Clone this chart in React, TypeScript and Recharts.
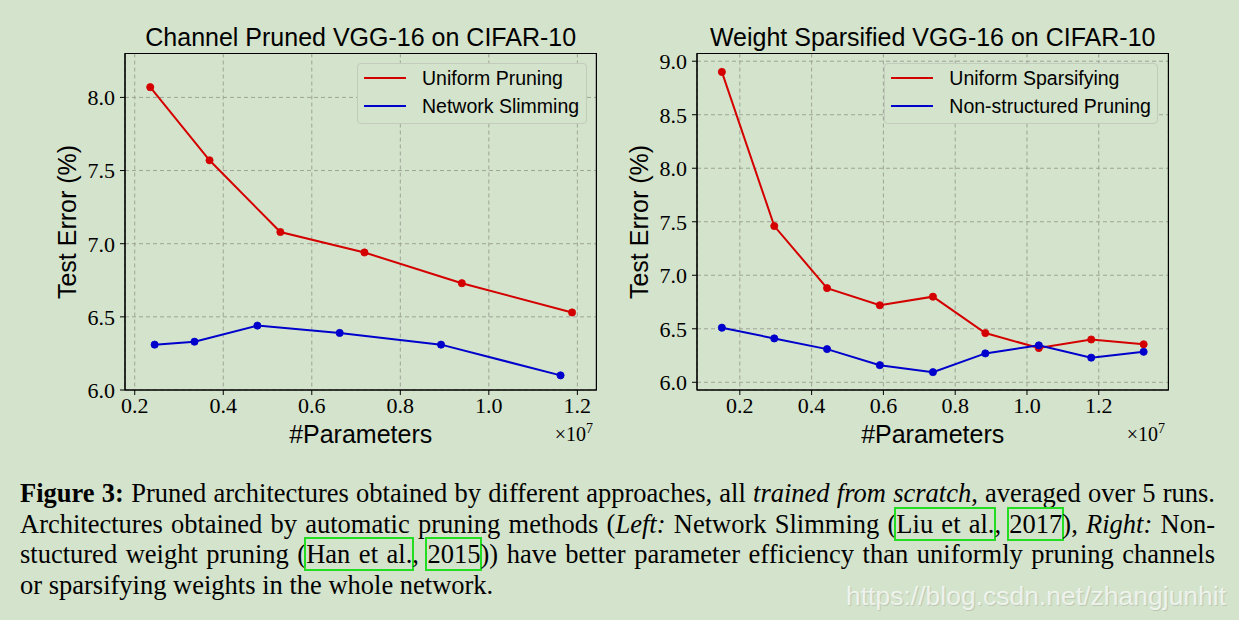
import { LineChart, Line, XAxis, YAxis, CartesianGrid, ReferenceArea, Legend } from 'recharts';

const BG = '#d4e3cb';
const RED = '#d40000';
const BLUE = '#0000cc';
const GRID = '#9ea596';

// left panel: channel pruned VGG-16 (x in units of 1e7 params)
const channelParams = [0.235, 0.369, 0.529, 0.719, 0.939, 1.188];
const channelUniform = [8.07, 7.57, 7.08, 6.94, 6.73, 6.53];
const slimmingParams = [0.245, 0.335, 0.477, 0.663, 0.892, 1.162];
const slimmingError = [6.31, 6.33, 6.44, 6.39, 6.31, 6.1];

// right panel: weight sparsified VGG-16
const weightParams = [0.15, 0.296, 0.443, 0.59, 0.738, 0.884, 1.033, 1.179, 1.325];
const uniformSparse = [8.9, 7.46, 6.88, 6.72, 6.8, 6.46, 6.32, 6.4, 6.355];
const nonStructured = [6.51, 6.41, 6.31, 6.16, 6.095, 6.27, 6.345, 6.23, 6.285];

const xTicks = [0.2, 0.4, 0.6, 0.8, 1.0, 1.2];
const leftYTicks = [6.0, 6.5, 7.0, 7.5, 8.0];
const rightYTicks = [6.0, 6.5, 7.0, 7.5, 8.0, 8.5, 9.0];

const toPoints = (xs: number[], ys: number[]) => xs.map((x, i) => ({ x, y: ys[i] }));

interface Series {
  name: string;
  color: string;
  data: { x: number; y: number }[];
}

interface PanelProps {
  left: number;
  title: string;
  xDomain: [number, number];
  yDomain: [number, number];
  yTicks: number[];
  series: Series[];
  legendLeft: number;
  legendWidth: number;
}

const W = 610;
const H = 460;
const PLOT_L = 125;
const PLOT_R = 596.4;
const PLOT_T = 53.5;
const PLOT_B = 390;
const MID = (PLOT_L + PLOT_R) / 2;

const sans = '"Liberation Sans", Arial, sans-serif';
const serif = '"Liberation Serif", "Times New Roman", serif';

const LegendBox = ({ series, width }: { series: Series[]; width: number }) => (
  <div
    style={{
      width,
      height: 61,
      boxSizing: 'border-box',
      border: '1px solid #c3cbbd',
      borderRadius: 4,
      background: BG,
      fontFamily: sans,
      fontSize: 19.5,
      color: '#000',
    }}
  >
    {series.map((s, i) => (
      <div key={s.name} style={{ position: 'absolute', left: 0, top: 15 + i * 28.4 - 12, height: 24, display: 'flex', alignItems: 'center' }}>
        <div style={{ marginLeft: 7, width: 42, height: 2, background: s.color }} />
        <div style={{ marginLeft: 16, whiteSpace: 'nowrap', lineHeight: '24px' }}>{s.name}</div>
      </div>
    ))}
  </div>
);

const Panel = ({ left, title, xDomain, yDomain, yTicks, series, legendLeft, legendWidth }: PanelProps) => (
  <div style={{ position: 'absolute', left, top: 0, width: W, height: H }}>
    <LineChart width={W} height={H} margin={{ top: PLOT_T, right: W - PLOT_R, left: 0, bottom: 0 }}>
      <CartesianGrid stroke={GRID} strokeDasharray="4 3" strokeWidth={1} />
      <XAxis
        type="number"
        dataKey="x"
        domain={xDomain}
        ticks={xTicks}
        interval={0}
        height={H - PLOT_B}
        tickFormatter={(v: number) => v.toFixed(1)}
        tick={{ fontFamily: serif, fontSize: 22, fill: '#000' }}
        tickSize={5}
        tickMargin={2}
        axisLine={{ stroke: '#000' }}
        tickLine={{ stroke: '#000' }}
        allowDataOverflow
      />
      <YAxis
        type="number"
        domain={yDomain}
        ticks={yTicks}
        interval={0}
        width={PLOT_L}
        tickFormatter={(v: number) => v.toFixed(1)}
        tick={{ fontFamily: serif, fontSize: 22, fill: '#000' }}
        tickSize={5}
        tickMargin={5}
        axisLine={{ stroke: '#000' }}
        tickLine={{ stroke: '#000' }}
        allowDataOverflow
      />
      {series.map((s) => (
        <Line
          key={s.name}
          name={s.name}
          data={s.data}
          dataKey="y"
          type="linear"
          stroke={s.color}
          strokeWidth={2}
          dot={{ r: 3.6, fill: s.color, stroke: s.color, strokeWidth: 0.8 }}
          activeDot={false}
          isAnimationActive={false}
        />
      ))}
      <ReferenceArea
        x1={xDomain[0]}
        x2={xDomain[1]}
        y1={yDomain[0]}
        y2={yDomain[1]}
        fill="none"
        fillOpacity={0}
        stroke="#000"
        strokeWidth={1.2}
      />
      <Legend
        layout="vertical"
        align="center"
        verticalAlign="middle"
        wrapperStyle={{ left: legendLeft, top: 63, width: legendWidth, height: 61 }}
        content={() => <LegendBox series={series} width={legendWidth} />}
      />
    </LineChart>
    <svg width={W} height={H} style={{ position: 'absolute', left: 0, top: 0, pointerEvents: 'none' }}>
      <text x={MID} y={46} textAnchor="middle" fontFamily={sans} fontSize={25} fill="#000">
        {title}
      </text>
      <text x={MID} y={443} textAnchor="middle" fontFamily={sans} fontSize={25} fill="#000">
        #Parameters
      </text>
      <text x={76} y={222} textAnchor="middle" fontFamily={sans} fontSize={25} fill="#000" transform="rotate(-90 76 222)">
        Test Error (%)
      </text>
      <text x={593} y={441} textAnchor="end" fontFamily={serif} fontSize={20} fill="#000">
        ×10<tspan fontSize={14} dy={-8}>7</tspan>
      </text>
    </svg>
  </div>
);

const linkBox = { boxShadow: '0 0 0 2px #22dd22' };
const lineStyle = {
  textAlign: 'justify' as const,
  textAlignLast: 'justify' as const,
  wordSpacing: -3,
  height: 30.7,
};

export default function App() {
  return (
    <div style={{ position: 'absolute', left: 0, top: 0, width: 1239, height: 620, background: BG, overflow: 'hidden' }}>
      <Panel
        left={0}
        title="Channel Pruned VGG-16 on CIFAR-10"
        xDomain={[0.178, 1.243]}
        yDomain={[6.0, 8.3]}
        yTicks={leftYTicks}
        series={[
          { name: 'Uniform Pruning', color: RED, data: toPoints(channelParams, channelUniform) },
          { name: 'Network Slimming', color: BLUE, data: toPoints(slimmingParams, slimmingError) },
        ]}
        legendLeft={357}
        legendWidth={230}
      />
      <Panel
        left={571.8}
        title="Weight Sparsified VGG-16 on CIFAR-10"
        xDomain={[0.0807, 1.394]}
        yDomain={[5.928, 9.072]}
        yTicks={rightYTicks}
        series={[
          { name: 'Uniform Sparsifying', color: RED, data: toPoints(weightParams, uniformSparse) },
          { name: 'Non-structured Pruning', color: BLUE, data: toPoints(weightParams, nonStructured) },
        ]}
        legendLeft={312.5}
        legendWidth={274}
      />
      <div
        style={{
          position: 'absolute',
          left: 20,
          top: 478,
          width: 1195,
          fontFamily: serif,
          fontSize: 26.5,
          lineHeight: '30.7px',
          color: '#000',
        }}
      >
        <div style={lineStyle}>
          <b>Figure 3:</b> Pruned architectures obtained by different approaches, all <i>trained from scratch</i>, averaged over 5 runs.
        </div>
        <div style={lineStyle}>
          Architectures obtained by automatic pruning methods (<i>Left:</i> Network Slimming (<span style={linkBox}>Liu et al.</span>,{' '}
          <span style={linkBox}>2017</span>), <i>Right:</i> Non-
        </div>
        <div style={lineStyle}>
          stuctured weight pruning (<span style={linkBox}>Han et al.</span>, <span style={linkBox}>2015</span>)) have better parameter
          efficiency than uniformly pruning channels
        </div>
        <div style={{ height: 30.7, whiteSpace: 'nowrap' }}>or sparsifying weights in the whole network.</div>
      </div>
      <div
        style={{
          position: 'absolute',
          left: 846,
          top: 580,
          fontFamily: sans,
          fontSize: 26.5,
          lineHeight: '32px',
          color: 'rgba(255,255,255,0.72)',
          textShadow: '1px 1px 1px rgba(0,0,0,0.12)',
          whiteSpace: 'nowrap',
        }}
      >
        https://blog.csdn.net/zhangjunhit
      </div>
    </div>
  );
}
